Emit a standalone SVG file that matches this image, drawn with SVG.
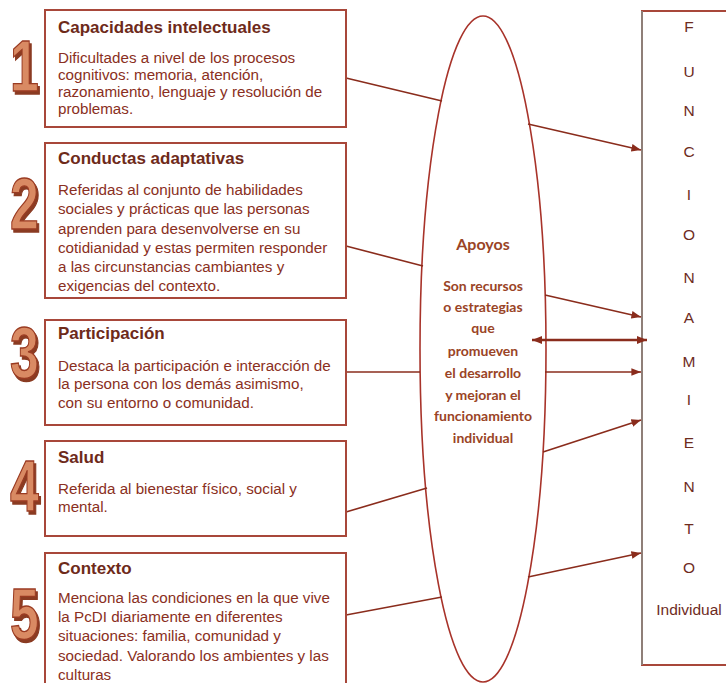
<svg xmlns="http://www.w3.org/2000/svg" width="726" height="683" viewBox="0 0 726 683">
<defs>
<style>
.box{fill:#fff;stroke:#a8473a;stroke-width:2}
.title{font-family:"Liberation Sans",Arial,sans-serif;font-weight:bold;font-size:17px;fill:#6e2a1a}
.body{font-family:"Liberation Sans",Arial,sans-serif;font-size:15.2px;fill:#8a2f22}
.num{font-family:"Liberation Sans",Arial,sans-serif;font-weight:bold;font-size:72px;fill:#d98a63;stroke:#9a3b22;stroke-width:1.4;filter:url(#sh)}
.ell{font-family:Lato,"Open Sans",sans-serif;font-weight:bold;font-size:14px;fill:#9a4426;text-anchor:middle}
.letter{font-family:"Liberation Sans",Arial,sans-serif;font-size:15.5px;fill:#6e2c1e;text-anchor:middle}
.conn{stroke:#8a2c1c;stroke-width:1.6;fill:none}
</style>
<filter id="sh" x="-20%" y="-20%" width="150%" height="150%">
<feOffset in="SourceAlpha" dx="2.5" dy="2.5" result="o"/>
<feFlood flood-color="#8a3a22"/>
<feComposite in2="o" operator="in" result="s"/>
<feMerge><feMergeNode in="s"/><feMergeNode in="SourceGraphic"/></feMerge>
</filter>
<marker id="ah" viewBox="0 0 10 10" refX="10" refY="5" markerWidth="6" markerHeight="6" orient="auto-start-reverse" markerUnits="strokeWidth">
<path d="M0,1 L10,5 L0,9 z" fill="#8a2c1c"/>
</marker>
<marker id="ah2" viewBox="0 0 10 10" refX="10" refY="5" markerWidth="4" markerHeight="4" orient="auto-start-reverse" markerUnits="strokeWidth">
<path d="M0,1 L10,5 L0,9 z" fill="#8a2c1c"/>
</marker>
</defs>
<rect width="726" height="683" fill="#fff"/>

<g id="apoyos">
<ellipse cx="483" cy="349" rx="63" ry="333" fill="#fff" stroke="#a8332a" stroke-width="1.6"/>
<text class="ell" x="483" y="250" style="font-size:16px">Apoyos</text>
<text class="ell" x="483" y="291">Son recursos</text>
<text class="ell" x="483" y="312">o estrategias</text>
<text class="ell" x="483" y="333">que</text>
<text class="ell" x="483" y="356">promueven</text>
<text class="ell" x="483" y="378">el desarrollo</text>
<text class="ell" x="483" y="400">y mejoran el</text>
<text class="ell" x="483" y="421">funcionamiento</text>
<text class="ell" x="483" y="443">individual</text>
</g>

<g id="funcionamiento">
<path d="M730,11 L642,11 L642,665 L730,665" fill="#fff" stroke="#a8473a" stroke-width="2"/>
<line x1="642" y1="11" x2="642" y2="665" stroke="#8f7f78" stroke-width="2"/>
<text class="letter" x="689" y="32">F</text>
<text class="letter" x="689" y="77">U</text>
<text class="letter" x="689" y="116">N</text>
<text class="letter" x="689" y="157">C</text>
<text class="letter" x="689" y="200">I</text>
<text class="letter" x="689" y="240">O</text>
<text class="letter" x="689" y="283">N</text>
<text class="letter" x="689" y="323">A</text>
<text class="letter" x="689" y="367">M</text>
<text class="letter" x="689" y="405">I</text>
<text class="letter" x="689" y="448">E</text>
<text class="letter" x="689" y="492">N</text>
<text class="letter" x="689" y="534">T</text>
<text class="letter" x="689" y="573">O</text>
<text class="letter" x="689" y="615">Individual</text>
</g>

<g id="connectors">
<line class="conn" x1="346" y1="78" x2="442" y2="101"/>
<line class="conn" x1="528" y1="124" x2="641" y2="150" marker-end="url(#ah)"/>
<line class="conn" x1="346" y1="246" x2="423" y2="266"/>
<line class="conn" x1="545" y1="295" x2="641" y2="317" marker-end="url(#ah)"/>
<line class="conn" x1="532" y1="340" x2="647" y2="340" style="stroke-width:2.6" marker-start="url(#ah2)" marker-end="url(#ah2)"/>
<line class="conn" x1="346" y1="372" x2="420" y2="372"/>
<line class="conn" x1="545" y1="372" x2="641" y2="372" marker-end="url(#ah)"/>
<line class="conn" x1="346" y1="512" x2="427" y2="488"/>
<line class="conn" x1="543" y1="452" x2="641" y2="420" marker-end="url(#ah)"/>
<line class="conn" x1="346" y1="615" x2="442" y2="597"/>
<line class="conn" x1="528" y1="577" x2="641" y2="553" marker-end="url(#ah)"/>
</g>

<g id="n1">
<rect class="box" x="45" y="10" width="301" height="117"/>
<text class="num" transform="translate(10,91) scale(0.72,1)">1</text>
<text class="title" x="58" y="33">Capacidades intelectuales</text>
<text class="body" x="58" y="63">Dificultades a nivel de los procesos</text>
<text class="body" x="58" y="80">cognitivos: memoria, atención,</text>
<text class="body" x="58" y="97">razonamiento, lenguaje y resolución de</text>
<text class="body" x="58" y="114">problemas.</text>
</g>

<g id="n2">
<rect class="box" x="45" y="143" width="301" height="155"/>
<text class="num" transform="translate(10,229) scale(0.72,1)">2</text>
<text class="title" x="58" y="164">Conductas adaptativas</text>
<text class="body" x="58" y="195">Referidas al conjunto de habilidades</text>
<text class="body" x="58" y="214">sociales y prácticas que las personas</text>
<text class="body" x="58" y="234">aprenden para desenvolverse en su</text>
<text class="body" x="58" y="253">cotidianidad y estas permiten responder</text>
<text class="body" x="58" y="272">a las circunstancias cambiantes y</text>
<text class="body" x="58" y="291">exigencias del contexto.</text>
</g>

<g id="n3">
<rect class="box" x="45" y="320" width="301" height="105"/>
<text class="num" transform="translate(10,378) scale(0.72,1)">3</text>
<text class="title" x="58" y="339">Participación</text>
<text class="body" x="58" y="371">Destaca la participación e interacción de</text>
<text class="body" x="58" y="389">la persona con los demás asimismo,</text>
<text class="body" x="58" y="408">con su entorno o comunidad.</text>
</g>

<g id="n4">
<rect class="box" x="45" y="441" width="301" height="95"/>
<text class="num" transform="translate(10,511) scale(0.72,1)">4</text>
<text class="title" x="58" y="463">Salud</text>
<text class="body" x="58" y="494">Referida al bienestar físico, social y</text>
<text class="body" x="58" y="512">mental.</text>
</g>

<g id="n5">
<rect class="box" x="45" y="553" width="301" height="140"/>
<text class="num" transform="translate(10,639) scale(0.72,1)">5</text>
<text class="title" x="58" y="574">Contexto</text>
<text class="body" x="58" y="603">Menciona las condiciones en la que vive</text>
<text class="body" x="58" y="622">la PcDI diariamente en diferentes</text>
<text class="body" x="58" y="641">situaciones: familia, comunidad y</text>
<text class="body" x="58" y="661">sociedad. Valorando los ambientes y las</text>
<text class="body" x="58" y="680">culturas</text>
</g>
</svg>
